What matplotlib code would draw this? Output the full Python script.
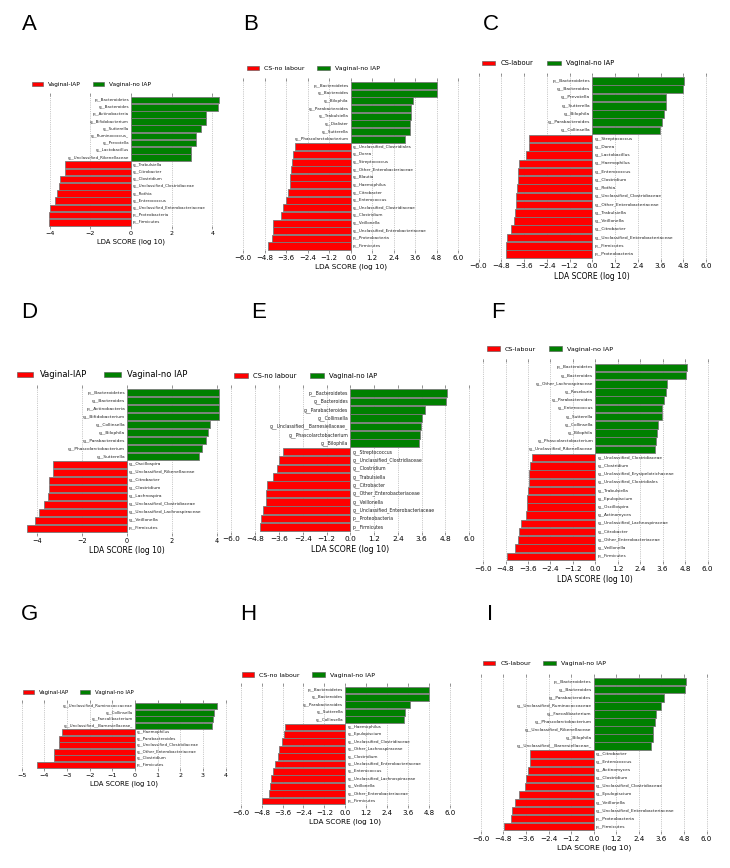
import numpy as np
import matplotlib
matplotlib.use('Agg')
import matplotlib.pyplot as plt
from matplotlib.patches import Patch

W, H = 730, 868
RED = '#ff0000'
GREEN = '#008000'

# data, top bar first; negative = first group (red), positive = Vaginal-no IAP (green)
a_names = ['p__Bacteroidetes', 'g__Bacteroides', 'p__Actinobacteria', 'g__Bifidobacterium',
           'g__Sutterella', 'g__Ruminococcus_', 'g__Prevotella', 'g__Lactobacillus',
           'g__Unclassified_Rikenellaceae', 'g__Trabulsiella', 'g__Citrobacter', 'g__Clostridium',
           'g__Unclassified_Clostridiaceae', 'g__Rothia', 'g__Enterococcus',
           'g__Unclassified_Enterobacteriaceae', 'p__Proteobacteria', 'p__Firmicutes']
a_vals = [4.33, 4.30, 3.70, 3.69, 3.46, 3.20, 3.20, 2.95, 2.93,
          -3.25, -3.25, -3.51, -3.54, -3.64, -3.72, -3.98, -4.05, -4.05]

b_names = ['p__Bacteroidetes', 'g__Bacteroides', 'g__Bilophila', 'g__Parabacteroides',
           'g__Trabulsiella', 'g__Dialister', 'g__Sutterella', 'g__Phascolarctobacterium',
           'g__Unclassified_Clostridiales', 'g__Dorea', 'g__Streptococcus',
           'g__Other_Enterobacteriaceae', 'g__Blautia', 'g__Haemophilus', 'g__Citrobacter',
           'g__Enterococcus', 'g__Unclassified_Clostridiaceae', 'g__Clostridium', 'g__Veillonella',
           'g__Unclassified_Enterobacteriaceae', 'p__Proteobacteria', 'p__Firmicutes']
b_vals = [4.80, 4.80, 3.50, 3.37, 3.35, 3.31, 3.31, 3.05,
          -3.11, -3.22, -3.29, -3.35, -3.37, -3.39, -3.50, -3.59, -3.78, -3.91, -4.32,
          -4.35, -4.37, -4.60]

c_names = ['p__Bacteroidetes', 'g__Bacteroides', 'g__Prevotella', 'g__Sutterella', 'g__Bilophila',
           'g__Parabacteroides', 'g__Collinsella', 'g__Streptococcus', 'g__Dorea',
           'g__Lactobacillus', 'g__Haemophilus', 'g__Enterococcus', 'g__Clostridium', 'g__Rothia',
           'g__Unclassified_Clostridiaceae', 'g__Other_Enterobacteriaceae', 'g__Trabulsiella',
           'g__Veillonella', 'g__Citrobacter', 'g__Unclassified_Enterobacteriaceae',
           'p__Firmicutes', 'p__Proteobacteria']
c_vals = [4.83, 4.80, 3.88, 3.87, 3.80, 3.67, 3.57,
          -3.34, -3.34, -3.48, -3.87, -3.90, -3.90, -3.97, -4.01, -4.04, -4.08, -4.13,
          -4.31, -4.50, -4.53, -4.55]

d_names = ['p__Bacteroidetes', 'g__Bacteroides', 'p__Actinobacteria', 'g__Bifidobacterium',
           'g__Collinsella', 'g__Bilophila', 'g__Parabacteroides', 'g__Phascolarctobacterium',
           'g__Sutterella', 'g__Oscillospira', 'g__Unclassified_Rikenellaceae', 'g__Citrobacter',
           'g__Clostridium', 'g__Lachnospira', 'g__Unclassified_Clostridiaceae',
           'g__Unclassified_Lachnospiraceae', 'g__Veillonella', 'p__Firmicutes']
d_vals = [4.11, 4.11, 4.11, 4.07, 3.68, 3.62, 3.49, 3.34, 3.18,
          -3.30, -3.30, -3.48, -3.48, -3.52, -3.71, -3.92, -4.10, -4.45]

e_names = ['p__Bacteroidetes', 'g__Bacteroides', 'g__Parabacteroides', 'g__Collinsella',
           'g__Unclassified__Barnesiellaceae_', 'g__Phascolarctobacterium', 'g__Bilophila',
           'g__Streptococcus', 'g__Unclassified_Clostridiaceae', 'g__Clostridium',
           'g__Trabulsiella', 'g__Citrobacter', 'g__Other_Enterobacteriaceae', 'g__Veillonella',
           'g__Unclassified_Enterobacteriaceae', 'p__Proteobacteria', 'p__Firmicutes']
e_vals = [4.86, 4.82, 3.76, 3.63, 3.56, 3.50, 3.46,
          -3.41, -3.60, -3.70, -3.90, -4.22, -4.27, -4.27, -4.42, -4.49, -4.55]

f_names = ['p__Bacteroidetes', 'g__Bacteroides', 'g__Other_Lachnospiraceae', 'g__Roseburia',
           'g__Parabacteroides', 'g__Enterococcus', 'g__Sutterella', 'g__Collinsella',
           'g__Bilophila', 'g__Phascolarctobacterium', 'g__Unclassified_Rikenellaceae',
           'g__Unclassified_Clostridiaceae', 'g__Clostridium',
           'g__Unclassified_Erysipelotrichaceae', 'g__Unclassified_Clostridiales',
           'g__Trabulsiella', 'g__Epulopiscium', 'g__Oscillospira', 'g__Actinomyces',
           'g__Unclassified_Lachnospiraceae', 'g__Citrobacter', 'g__Other_Enterobacteriaceae',
           'g__Veillonella', 'p__Firmicutes']
f_vals = [4.89, 4.84, 3.82, 3.80, 3.66, 3.59, 3.57, 3.36, 3.32, 3.23, 3.18,
          -3.37, -3.48, -3.54, -3.54, -3.59, -3.64, -3.66, -3.68, -3.98, -4.09, -4.16,
          -4.30, -4.71]

g_names = ['g__Unclassified_Ruminococcaceae', 'g__Collinsella', 'g__Faecalibacterium',
           'g__Unclassified__Barnesiellaceae_', 'g__Haemophilus', 'g__Parabacteroides',
           'g__Unclassified_Clostridiaceae', 'g__Other_Enterobacteriaceae', 'g__Clostridium',
           'p__Firmicutes']
g_vals = [3.62, 3.47, 3.44, 3.41, -3.24, -3.35, -3.37, -3.56, -3.57, -4.34]

h_names = ['p__Bacteroidetes', 'g__Bacteroides', 'g__Parabacteroides', 'g__Sutterella',
           'g__Collinsella', 'g__Haemophilus', 'g__Epulopiscium', 'g__Unclassified_Clostridiaceae',
           'g__Other_Lachnospiraceae', 'g__Clostridium', 'g__Unclassified_Enterobacteriaceae',
           'g__Enterococcus', 'g__Unclassified_Lachnospiraceae', 'g__Veillonella',
           'g__Other_Enterobacteriaceae', 'p__Firmicutes']
h_vals = [4.82, 4.80, 3.71, 3.44, 3.37,
          -3.48, -3.52, -3.65, -3.80, -3.86, -4.03, -4.15, -4.26, -4.30, -4.36, -4.78]

i_names = ['p__Bacteroidetes', 'g__Bacteroides', 'g__Parabacteroides',
           'g__Unclassified_Ruminococcaceae', 'g__Faecalibacterium', 'g__Phascolarctobacterium',
           'g__Unclassified_Rikenellaceae', 'g__Bilophila', 'g__Unclassified__Barnesiellaceae_',
           'g__Citrobacter', 'g__Enterococcus', 'g__Actinomyces', 'g__Clostridium',
           'g__Unclassified_Clostridiaceae', 'g__Epulopiscium', 'g__Veillonella',
           'g__Unclassified_Enterobacteriaceae', 'p__Proteobacteria', 'p__Firmicutes']
i_vals = [4.89, 4.84, 3.75, 3.60, 3.29, 3.24, 3.17, 3.13, 3.06,
          -3.38, -3.40, -3.51, -3.58, -3.63, -3.99, -4.20, -4.34, -4.39, -4.78]

groups = {'A': 'Vaginal-IAP', 'B': 'CS-no labour', 'C': 'CS-labour',
          'D': 'Vaginal-IAP', 'E': 'CS-no labour', 'F': 'CS-labour',
          'G': 'Vaginal-IAP', 'H': 'CS-no labour', 'I': 'CS-labour'}
ref_group = 'Vaginal-no IAP'

ticks_int = [-4, -2, 0, 2, 4]
ticks_g = [-5, -4, -3, -2, -1, 0, 1, 2, 3, 4]
ticks_12 = list(np.round(np.arange(-6, 6.01, 1.2), 1))

# layout in pixels: zero position, px per unit, bar centres, legend, font sizes
# ls = bar labels, xs = x label, lfs = legend
panels = [
    ('A', a_names, a_vals, dict(x0=131, ppu=20.33, xlim=(-4.6, 4.6), ticks=ticks_int, yt=100, yb=222.3, leg=(31.7, 84.3), lfs=4.2, ls=2.86, xs=4.97, ts=4.6, let=(29, 25))),
    ('B', b_names, b_vals, dict(x0=350.7, ppu=17.9, xlim=(-6.1, 6.1), ticks=ticks_12, yt=85.7, yb=246, leg=(246.7, 68.3), lfs=4.5, ls=2.98, xs=5.2, ts=5.0, let=(251, 25))),
    ('C', c_names, c_vals, dict(x0=592.3, ppu=18.96, xlim=(-6.1, 6.1), ticks=ticks_12, yt=81, yb=254, leg=(481.7, 63.3), lfs=4.9, ls=3.18, xs=5.5, ts=5.2, let=(491, 25))),
    ('D', d_names, d_vals, dict(x0=127, ppu=22.5, xlim=(-4.5, 4.5), ticks=ticks_int, yt=392.7, yb=528.3, leg=(16.7, 375), lfs=6.0, ls=3.13, xs=5.46, ts=4.7, let=(29, 312))),
    ('E', e_names, e_vals, dict(x0=350.3, ppu=19.8, xlim=(-6.1, 6.1), ticks=ticks_12, yt=393.3, yb=526.7, leg=(234, 375.7), lfs=4.9, ls=3.34, xs=5.7, ts=5.3, let=(259, 312))),
    ('F', f_names, f_vals, dict(x0=595.3, ppu=18.7, xlim=(-6.1, 6.1), ticks=ticks_12, yt=367.3, yb=556.3, leg=(487, 349), lfs=4.6, ls=3.1, xs=5.5, ts=5.2, let=(498, 312))),
    ('G', g_names, g_vals, dict(x0=135, ppu=22.67, xlim=(-5.1, 4.1), ticks=ticks_g, yt=706.3, yb=764.7, leg=(23.3, 692.7), lfs=3.9, ls=2.9, xs=4.97, ts=4.6, let=(30, 615))),
    ('H', h_names, h_vals, dict(x0=345.3, ppu=17.43, xlim=(-6.1, 6.1), ticks=ticks_12, yt=690, yb=801, leg=(241.7, 675), lfs=4.5, ls=2.98, xs=5.2, ts=5.0, let=(248, 615))),
    ('I', i_names, i_vals, dict(x0=593.7, ppu=18.82, xlim=(-6.1, 6.1), ticks=ticks_12, yt=681.7, yb=826.7, leg=(482.7, 663.3), lfs=4.5, ls=3.18, xs=5.4, ts=5.1, let=(490, 615))),
]

fig = plt.figure(figsize=(W / 100, H / 100), dpi=100)
pad = 0.45

for key, names, vals, p in panels:
    n = len(vals)
    sp = (p['yb'] - p['yt']) / (n - 1)
    top = p['yt'] - (0.5 + pad) * sp
    bot = p['yb'] + (0.5 + pad) * sp
    left = p['x0'] + p['xlim'][0] * p['ppu']
    width = (p['xlim'][1] - p['xlim'][0]) * p['ppu']
    ax = fig.add_axes([left / W, 1 - bot / H, width / W, (bot - top) / H])
    y = np.arange(n)[::-1]
    vals = np.array(vals)
    cols = [GREEN if v > 0 else RED for v in vals]
    ax.barh(y, vals, height=0.92, color=cols, edgecolor='#7a7a7a', linewidth=0.6, zorder=2)
    for yy, v, nm in zip(y, vals, names):
        if v > 0:
            ax.annotate(nm, (0, yy), xytext=(-1.5, 0), textcoords='offset points',
                        ha='right', va='center', fontsize=p['ls'], color='#222222')
        else:
            ax.annotate(nm, (0, yy), xytext=(1.5, 0), textcoords='offset points',
                        ha='left', va='center', fontsize=p['ls'], color='#222222')
    ax.set_xlim(p['xlim'])
    ax.set_ylim(-0.5 - pad, n - 0.5 + pad)
    ax.set_yticks([])
    ax.set_xticks(p['ticks'])
    if key in ('A', 'D', 'G'):
        labs = [str(int(t)).replace('-', '\u2212') for t in p['ticks']]
    else:
        labs = [('%.1f' % (t + 0.0)).replace('-', '\u2212') for t in p['ticks']]
        labs = [l if l != '\u22120.0' else '0.0' for l in labs]
    ax.set_xticklabels(labs)
    ax.tick_params(axis='x', direction='in', length=2, width=0.4, color='#555555',
                   top=True, bottom=True, labelsize=p['ts'], pad=1.2)
    for s in ax.spines.values():
        s.set_visible(False)
    ax.xaxis.grid(True, ls=':', color='#999999', lw=0.5)
    ax.set_axisbelow(True)
    ax.set_xlabel('LDA SCORE (log 10)', fontsize=p['xs'], labelpad=2)

    handles = [Patch(facecolor=RED, edgecolor='#555555', linewidth=0.4),
               Patch(facecolor=GREEN, edgecolor='#555555', linewidth=0.4)]
    lx, ly = p['leg']
    fig.legend(handles, [groups[key], ref_group], loc='center left',
               bbox_to_anchor=(lx / W, 1 - ly / H), ncol=2, frameon=False,
               borderpad=0, borderaxespad=0, handlelength=2, handleheight=0.7,
               handletextpad=0.8, columnspacing=2, fontsize=p['lfs'])

    tx, ty = p['let']
    fig.text(tx / W, 1 - ty / H, key, fontsize=16, ha='center', va='center',
             family='Liberation Sans')

fig.savefig('out.png', dpi=100, facecolor='white')
